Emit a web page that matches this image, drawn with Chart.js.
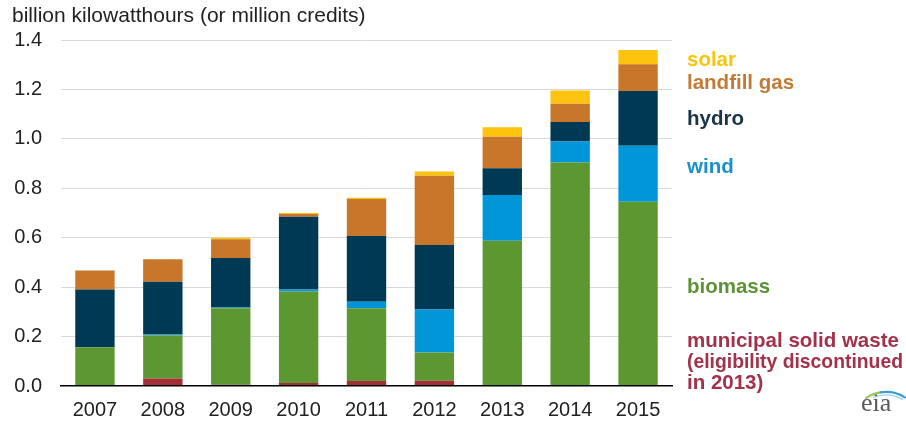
<!DOCTYPE html>
<html>
<head>
<meta charset="utf-8">
<script src="https://cdn.jsdelivr.net/npm/chart.js@4"></script>
<style>
    html, body { margin: 0; padding: 0; background: #fff; }
    #wrap { position: relative; width: 906px; height: 423px; }
</style>
</head>
<body>
<div id="wrap"><canvas id="recChart" width="906" height="423"></canvas></div>
<script>
const years = ['2007', '2008', '2009', '2010', '2011', '2012', '2013', '2014', '2015'];

// generation by source, billion kWh
const municipalWaste = [0, 0.03, 0.005, 0.012, 0.02, 0.021, 0, 0, 0];
const biomass = [0.157, 0.174, 0.31, 0.37, 0.295, 0.115, 0.588, 0.904, 0.746];
const wind = [0, 0.004, 0.003, 0.008, 0.026, 0.174, 0.185, 0.085, 0.226];
const hydro = [0.233, 0.214, 0.2, 0.295, 0.266, 0.261, 0.108, 0.079, 0.222];
const landfillGas = [0.077, 0.091, 0.076, 0.011, 0.15, 0.28, 0.128, 0.074, 0.108];
const solar = [0, 0, 0.006, 0.004, 0.005, 0.017, 0.038, 0.054, 0.058];

const yTicks = [0, 0.2, 0.4, 0.6, 0.8, 1.0, 1.2, 1.4];

const FONT = "'Liberation Sans', Arial, sans-serif";

const sourceLabels = [
    { lines: ['solar'], color: '#f7c60c', y: 60 },
    { lines: ['landfill gas'], color: '#c27a35', y: 83 },
    { lines: ['hydro'], color: '#1a3448', y: 119 },
    { lines: ['wind'], color: '#1990cd', y: 167 },
    { lines: ['biomass'], color: '#5e9236', y: 287 },
    { lines: ['municipal solid waste', '(eligibility discontinued', 'in 2013)'], color: '#a2324a', y: 341 }
];

// unit title, right-hand series labels and the eia mark
const annotations = {
    id: 'annotations',
    afterDraw(chart) {
        const ctx = chart.ctx;
        ctx.save();
        ctx.fillStyle = '#222';
        ctx.font = `21px ${FONT}`;
        ctx.textAlign = 'left';
        ctx.textBaseline = 'alphabetic';
        ctx.fillText('billion kilowatthours (or million credits)', 12, 22);

        ctx.font = `bold 20.5px ${FONT}`;
        ctx.textBaseline = 'middle';
        sourceLabels.forEach(item => {
            ctx.fillStyle = item.color;
            item.lines.forEach((line, i) => ctx.fillText(line, 687, item.y + i * 21, 216));
        });

        // eia logo: serif letters under a two-tone swoosh
        ctx.font = `26px 'Liberation Serif', 'DejaVu Serif', serif`;
        ctx.fillStyle = '#5a5a5a';
        ctx.textBaseline = 'alphabetic';
        ctx.fillText('eia', 861, 411);
        ctx.lineCap = 'round';
        ctx.lineWidth = 2.2;
        ctx.strokeStyle = '#9cc85a';
        ctx.beginPath();
        ctx.arc(886, 428, 36, -2.16, -1.72);
        ctx.stroke();
        ctx.strokeStyle = '#3a9fd0';
        ctx.beginPath();
        ctx.arc(886, 428, 36, -1.72, -1.02);
        ctx.stroke();
        ctx.lineWidth = 1.2;
        ctx.strokeStyle = '#9fcbe3';
        ctx.beginPath();
        ctx.arc(886, 428, 33, -1.95, -1.05);
        ctx.stroke();
        ctx.restore();
    }
};

const makeSet = (label, data, color) => ({
    label,
    data,
    backgroundColor: color,
    borderWidth: 0,
    categoryPercentage: 1,
    barPercentage: 0.58
});

new Chart(document.getElementById('recChart'), {
    type: 'bar',
    data: {
        labels: years,
        datasets: [
            makeSet('municipal solid waste', municipalWaste, '#a32e35'),
            makeSet('biomass', biomass, '#5d9732'),
            makeSet('wind', wind, '#0096d7'),
            makeSet('hydro', hydro, '#003953'),
            makeSet('landfill gas', landfillGas, '#c8772a'),
            makeSet('solar', solar, '#fdc30f')
        ]
    },
    options: {
        responsive: false,
        animation: false,
        layout: { padding: { top: 40, right: 234, left: 0, bottom: 0 } },
        scales: {
            x: {
                stacked: true,
                grid: { display: false, drawTicks: false },
                border: { display: true, color: '#000', width: 1.5, z: 1 },
                ticks: { color: '#222', font: { family: FONT, size: 20 }, padding: 12 },
                afterFit: scale => { scale.height = 37; }
            },
            y: {
                stacked: true,
                min: 0,
                max: 1.4,
                afterBuildTicks: scale => { scale.ticks = yTicks.map(value => ({ value })); },
                grid: {
                    drawTicks: false,
                    tickLength: 0,
                    color: context => context.tick && context.tick.value === 0 ? 'rgba(0,0,0,0)' : '#d9d9d9'
                },
                border: { display: false },
                ticks: {
                    color: '#222',
                    font: { family: FONT, size: 20 },
                    padding: 19,
                    callback: value => Number(value).toFixed(1)
                },
                afterFit: scale => { scale.width = 61; }
            }
        },
        plugins: {
            legend: { display: false },
            tooltip: { enabled: false }
        }
    },
    plugins: [annotations]
});
</script>
</body>
</html>
